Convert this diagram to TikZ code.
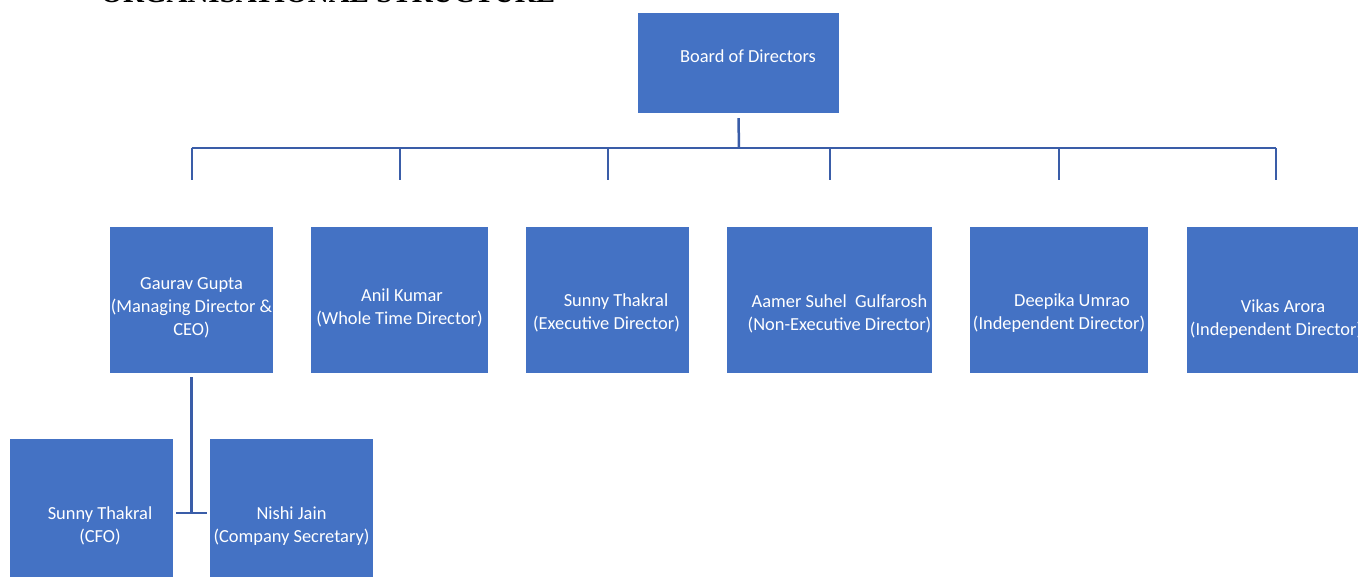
\documentclass[tikz,border=0pt]{standalone}
\usepackage{fontspec}
\setmainfont{Carlito}
\newfontfamily\titlefont{Liberation Serif}
\definecolor{boxblue}{HTML}{4472C4}
\definecolor{lineblue}{HTML}{3A5DA8}

\begin{document}
\begin{tikzpicture}[x=1pt, y=-1pt,
	member/.style={fill=boxblue, minimum height=146pt, inner sep=0pt},
	tag/.style={text=white, align=center, inner sep=0pt, font=\fontsize{18.4}{23}\selectfont},
	link/.style={draw=lineblue, line width=2.5pt}]
	\useasboundingbox (0,0) rectangle (1358,577);
	\clip (0,0) rectangle (1358,577);
	\fill[white] (0,0) rectangle (1358,577);
	\draw (97,3) node[anchor=base west, font=\titlefont\bfseries\fontsize{29}{29}\selectfont](title) {ORGANISATIONAL STRUCTURE};
	\draw (738.5,63) node[member, minimum width=201pt, minimum height=100pt, label={[tag, xshift=9.5pt, yshift=7pt]center:Board of Directors}](board) {};
	\draw (191.5,300) node[member, minimum width=163pt, label={[tag, yshift=-8pt]center:{Gaurav Gupta\\(Managing Director \&\\CEO)}}](gaurav) {};
	\draw (399.5,300) node[member, minimum width=177pt, label={[tag, yshift=-8pt]center:{\hspace*{5pt}Anil Kumar\\(Whole Time Director)}}](anil) {};
	\draw (607.5,300) node[member, minimum width=163pt, label={[tag, xshift=-1pt, yshift=-13pt]center:{\hspace*{19pt}Sunny Thakral\\(Executive Director)}}](sunny) {};
	\draw (829.5,300) node[member, minimum width=205pt, label={[tag, xshift=10pt, yshift=-14pt]center:{Aamer Suhel\ \ Gulfarosh\\(Non-Executive Director)}}](aamer) {};
	\draw (1059,300) node[member, minimum width=178pt, label={[tag, yshift=-13pt]center:{\hspace*{26pt}Deepika Umrao\\(Independent Director)}}](deepika) {};
	\draw (1276,300) node[member, minimum width=178pt, label={[tag, yshift=-19pt]center:{\hspace*{14pt}Vikas Arora\\(Independent Director)}}](vikas) {};
	\draw (91.5,512) node[member, minimum width=163pt, label={[tag, xshift=8.5pt, yshift=-14pt]center:{Sunny Thakral\\(CFO)}}](cfo) {};
	\draw (291.5,512) node[member, minimum width=163pt, label={[tag, yshift=-14pt]center:{Nishi Jain\\(Company Secretary)}}](secretary) {};
	\coordinate (bus) at (739,148);
	\coordinate (joint) at (191.5,513);
	\draw[link] ([yshift=-5pt]board.south) -- (bus);
	\draw[link] (bus -| gaurav.north) -- (bus -| vikas.north);
	\foreach \who in {gaurav,anil,sunny,aamer,deepika,vikas}
		\draw[link, line width=2pt] (bus -| \who.north) -- ([yshift=47pt]\who.north);
	\draw[link] ([yshift=-4pt]gaurav.south) -- (joint);
	\draw[link] ([xshift=3pt]cfo.east |- joint) -- ([xshift=-3pt]secretary.west |- joint);
\end{tikzpicture}
\end{document}
